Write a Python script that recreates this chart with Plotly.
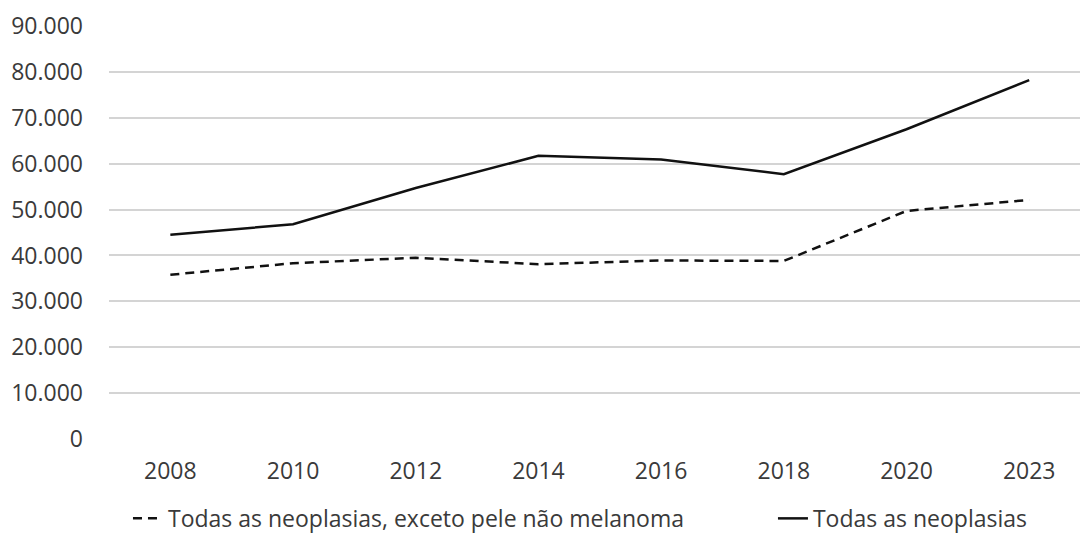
import plotly.graph_objects as go

# Anos de referência e número de casos estimados
anos = ["2008", "2010", "2012", "2014", "2016", "2018", "2020", "2023"]
todas_exceto_pele = [35800, 38300, 39500, 38100, 38900, 38800, 49700, 52100]
todas_neoplasias = [44500, 46800, 54700, 61700, 60900, 57700, 67500, 78200]

nome_exceto = "Todas as neoplasias, exceto pele não melanoma"
nome_todas = "Todas as neoplasias"

FONT = "'Open Sans', 'Noto Sans', sans-serif"
SIZE = 23
TEXT = "#3a3a3a"

fig = go.Figure()
fig.add_trace(go.Scatter(
    x=anos, y=todas_exceto_pele, name=nome_exceto, mode="lines",
    line=dict(color="#111111", width=2.5, dash="9px,6px"),
    legend="legend",
))
fig.add_trace(go.Scatter(
    x=anos, y=todas_neoplasias, name=nome_todas, mode="lines",
    line=dict(color="#111111", width=2.5),
    legend="legend2",
))

# Legends placed in figure (container) coordinates so they do not resize the plot
legend_style = dict(
    orientation="h", xref="container", yref="container",
    yanchor="middle", y=0.031, xanchor="left",
    font=dict(family=FONT, size=SIZE, color=TEXT),
    bgcolor="rgba(0,0,0,0)",
)

fig.update_layout(
    width=1080, height=535,
    margin=dict(l=109, r=0, t=26, b=96, autoexpand=False),
    paper_bgcolor="white", plot_bgcolor="white",
    separators=",.",
    font=dict(family=FONT, size=SIZE, color=TEXT),
    showlegend=True,
    legend=dict(x=0.1185, **legend_style),
    legend2=dict(x=0.7157, **legend_style),
    xaxis=dict(
        type="category", range=[-0.5, 7.414], automargin=False,
        showgrid=False, zeroline=False, showline=False,
        ticks="", ticklabelstandoff=16,
        tickfont=dict(family=FONT, size=SIZE, color=TEXT),
    ),
    yaxis=dict(
        range=[0, 90000], dtick=10000, tickformat=",.0f", automargin=False,
        showgrid=True, gridcolor="#d4d4d4", gridwidth=1.5,
        zeroline=False, showline=False, ticks="",
        ticklabelstandoff=25,
        tickfont=dict(family=FONT, size=SIZE, color=TEXT),
    ),
)

fig.write_html("out.html")
